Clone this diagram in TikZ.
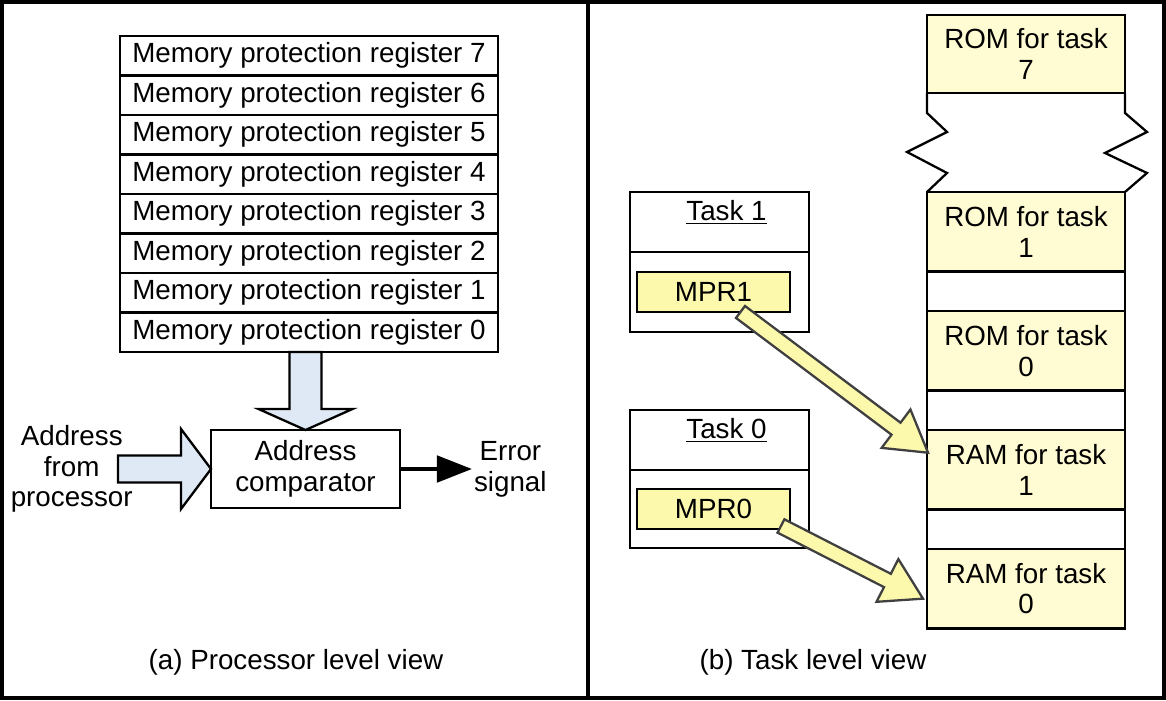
\documentclass[tikz,border=0pt]{standalone}
\usepackage{fontspec}
\setmainfont{Liberation Sans}
\usetikzlibrary{positioning, calc, arrows.meta}

\definecolor{regblue}{RGB}{222,233,245}
\definecolor{memyellow}{RGB}{255,251,210}
\definecolor{mpryellow}{RGB}{252,248,172}

% wide outlined arrow: style, from, to, shaft half width, head half width, head length
\newcommand{\fatarrow}[6]{%
    \coordinate (fa-h) at ($(#3)!#6!(#2)$);
    \draw[#1] ($(#2)!#4!90:(#3)$) -- ($(fa-h)!#4!90:(#3)$) -- ($(fa-h)!#5!90:(#3)$) -- (#3)
        -- ($(fa-h)!#5!-90:(#3)$) -- ($(fa-h)!#4!-90:(#3)$) -- ($(#2)!#4!-90:(#3)$) -- cycle;
}

\tikzset{
    box/.style={draw, line width=1.3pt, outer sep=0pt},
    reg/.style={box, minimum width=7.56cm, minimum height=0.79cm, inner sep=0pt},
    mem/.style={box, fill=memyellow, minimum width=3.96cm, minimum height=1.59cm, align=center},
    gapbox/.style={box, fill=white, minimum width=3.96cm, minimum height=0.79cm},
    taskhead/.style={box, minimum width=3.58cm, minimum height=1.2cm},
    taskbody/.style={box, minimum width=3.58cm, minimum height=1.6cm},
    mpr/.style={box, fill=mpryellow, minimum width=3.06cm, minimum height=0.8cm},
}

\begin{document}
\begin{tikzpicture}[x=0.02cm, y=-0.02cm, font=\fontsize{15.8}{17.5}\selectfont]
    \useasboundingbox (0,0) rectangle (1166,700);

    % Frame
    \draw[line width=1.8pt] (2,2) rectangle (1164,698);
    \draw[line width=1.8pt] (588,2) -- (588,698);

    % Registers
    \foreach \i in {0,...,7} {
        \node[reg] (reg\i) at (309, {332.25-39.5*\i}) {Memory protection register \i};
    }

    % Comparator
    \node[box, minimum width=3.78cm, minimum height=1.56cm, align=center] (comp) at (305.5,469) {Address\\comparator};
    \node[left=1.56cm of comp, inner sep=0pt, align=center] (addr) {Address\\from\\processor};
    \node[right=1.44cm of comp, inner sep=1pt, align=center] (err) {Error\\signal};

    \coordinate (regout) at (reg0.south -| comp);
    \coordinate (addrtail) at ($(addr.east)+(-15,0)$);
    \fatarrow{line width=1.3pt, fill=regblue}{regout}{comp.north}{0.32cm}{0.94cm}{0.42cm}
    \fatarrow{line width=1.3pt, fill=regblue}{addrtail}{comp.west}{0.27cm}{0.8cm}{0.6cm}
    \draw[line width=2.4pt, -{Triangle[length=20pt, width=15pt]}] (comp) -- (err);

    \node (capa) at (296,662) {(a) Processor level view};

    % Memory map
    \node[mem, anchor=north, minimum height=1.56cm] (rom7) at (1026,15) {ROM for task\\7};
    \node[mem, anchor=north] (rom1) at (1026,192) {ROM for task\\1};
    \node[gapbox, below=0pt of rom1] (gap1) {};
    \node[mem, below=0pt of gap1] (rom0) {ROM for task\\0};
    \node[gapbox, below=0pt of rom0] (gap2) {};
    \node[mem, below=0pt of gap2] (ram1) {RAM for task\\1};
    \node[gapbox, below=0pt of ram1] (gap3) {};
    \node[mem, below=0pt of gap3] (ram0) {RAM for task\\0};

    % Break
    \draw[line width=1.3pt] (rom7.south west) -- ++(0,20) -- ++(20,19) -- ++(-40,20) -- ++(40,21) -- (rom1.north west);
    \draw[line width=1.3pt] (rom7.south east) -- ++(0,20) -- ++(22,19) -- ++(-42,21) -- ++(42,20) -- (rom1.north east);

    % Tasks
    \node[taskhead, anchor=north west] (t1head) at (630,192) {};
    \node[taskbody, below=0pt of t1head] (t1body) {};
    \node (t1name) at ($(t1head.north)+(7,20)$) {\underline{Task 1}};
    \node[mpr, anchor=west] (mpr1) at ($(t1body.west)+(7,0)$) {MPR1};

    \node[taskhead, anchor=north west] (t0head) at (630,410) {};
    \node[taskbody, below=0pt of t0head, minimum height=1.56cm] (t0body) {};
    \node (t0name) at ($(t0head.north)+(7,20)$) {\underline{Task 0}};
    \node[mpr, anchor=west] (mpr0) at ($(t0body.west)+(7,0)$) {MPR0};

    \coordinate (a1s) at ($(mpr1.south)+(27,0)$);
    \coordinate (a1e) at ($(ram1.west)+(1,-17)$);
    \coordinate (a0s) at ($(mpr0.south east)+(-9,-3)$);
    \coordinate (a0e) at ($(ram0.west)+(-4,10)$);
    \fatarrow{line width=1.3pt, draw=black!75, fill=mpryellow}{a1s}{a1e}{0.15cm}{0.48cm}{0.8cm}
    \fatarrow{line width=1.3pt, draw=black!75, fill=mpryellow}{a0s}{a0e}{0.15cm}{0.48cm}{0.8cm}

    \node (capb) at (813,662) {(b) Task level view};
\end{tikzpicture}
\end{document}
